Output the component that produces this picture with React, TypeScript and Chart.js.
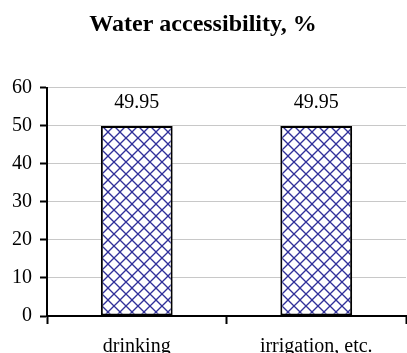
import React, { useEffect, useRef } from "react";
import { Chart, registerables } from "chart.js";

Chart.register(...registerables);

const categories = ["drinking", "irrigation, etc."];
const values = [49.95, 49.95];
const yTicks = [0, 10, 20, 30, 40, 50, 60];
const titleText = "Water accessibility, %";

const FONT = "'Liberation Serif', 'Times New Roman', serif";

function makePattern(): CanvasPattern | string {
  const size = 12;
  const c = document.createElement("canvas");
  c.width = size;
  c.height = size;
  const g = c.getContext("2d");
  if (!g) return "#fff";
  g.fillStyle = "#ffffff";
  g.fillRect(0, 0, size, size);
  g.strokeStyle = "#30309a";
  g.lineWidth = 1.3;
  for (const off of [-size, 0, size]) {
    g.beginPath();
    g.moveTo(off, 0);
    g.lineTo(off + size, size);
    g.stroke();
    g.beginPath();
    g.moveTo(off + size, 0);
    g.lineTo(off, size);
    g.stroke();
  }
  const p = g.createPattern(c, "repeat");
  return p || "#fff";
}

const valueLabels = {
  id: "valueLabels",
  afterDatasetsDraw(chart: any) {
    const ctx = chart.ctx;
    const meta = chart.getDatasetMeta(0);
    ctx.save();
    ctx.font = `20px ${FONT}`;
    ctx.fillStyle = "#000";
    ctx.textAlign = "center";
    ctx.textBaseline = "middle";
    meta.data.forEach((el: any, i: number) => {
      ctx.fillText(String(values[i]), el.x, el.y - 23);
    });
    ctx.restore();
  },
};

export default function App() {
  const ref = useRef<HTMLCanvasElement>(null);
  useEffect(() => {
    if (!ref.current) return;
    const chart = new Chart(ref.current, {
      type: "bar",
      data: {
        labels: categories,
        datasets: [
          {
            data: values,
            backgroundColor: makePattern() as any,
            borderColor: "#000",
            borderWidth: 2,
            borderSkipped: false,
            barPercentage: 0.4,
            categoryPercentage: 1,
          },
        ],
      },
      options: {
        responsive: false,
        animation: false,
        layout: { padding: { left: 0, right: 1, top: 0, bottom: 0 } },
        plugins: {
          legend: { display: false },
          tooltip: { enabled: false },
          title: {
            display: true,
            text: titleText,
            color: "#000",
            font: { family: FONT, size: 24, weight: "bold" },
            padding: { top: 10, bottom: 49 },
          },
        },
        scales: {
          y: {
            min: yTicks[0],
            max: yTicks[yTicks.length - 1],
            afterFit: (s: any) => {
              s.width = 47;
            },
            ticks: {
              stepSize: 10,
              color: "#000",
              font: { family: FONT, size: 20 },
              padding: 8,
            },
            grid: {
              color: "#c8c8c8",
              lineWidth: 1,
              tickColor: "#000",
              tickLength: 7,
              tickWidth: 2,
            },
            border: { color: "#000", width: 2 },
          },
          x: {
            offset: true,
            afterFit: (s: any) => {
              s.height = 37;
            },
            ticks: {
              color: "#000",
              font: { family: FONT, size: 20 },
              padding: 11,
            },
            grid: {
              offset: true,
              drawOnChartArea: false,
              tickColor: "#000",
              tickLength: 8,
              tickWidth: 2,
            },
            border: { color: "#000", width: 2 },
          },
        },
      },
      plugins: [valueLabels],
    });
    return () => chart.destroy();
  }, []);
  return (
    <div style={{ position: "absolute", left: 0, top: 0, width: 407, height: 353, background: "#fff" }}>
      <canvas ref={ref} width={407} height={353} />
    </div>
  );
}
